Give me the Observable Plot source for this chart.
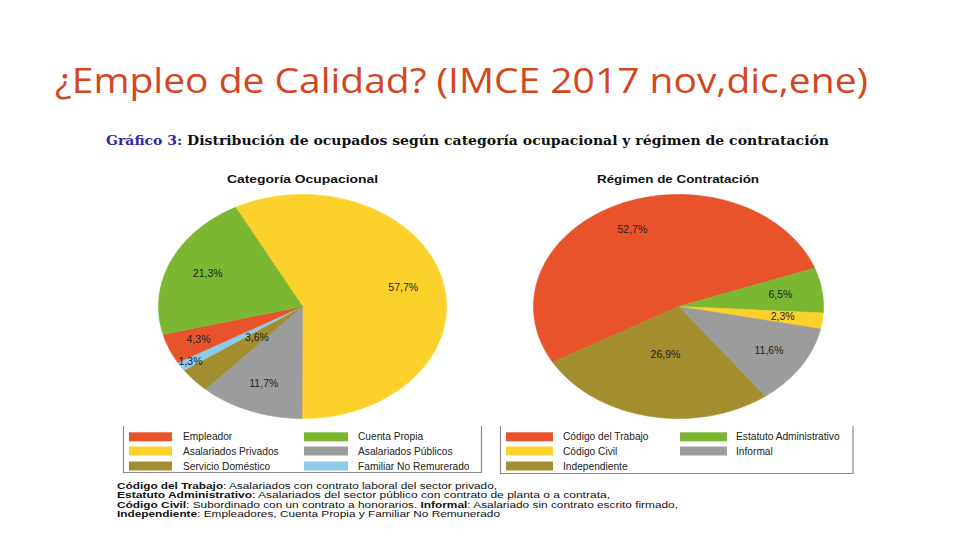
<!DOCTYPE html>
<html>
<head>
<meta charset="utf-8">
<script src="https://cdn.jsdelivr.net/npm/d3@7"></script>
<script src="https://cdn.jsdelivr.net/npm/@observablehq/plot@0.6"></script>
<style>
  body { margin: 0; background: #fff; }
  #page { position: relative; width: 960px; height: 540px; overflow: hidden; background: #fff; font-family: "Liberation Sans", Arial, sans-serif; }
  .pie { position: absolute; }
  .pie svg { display: block; background: transparent; }
  #overlay { position: absolute; left: 0; top: 0; pointer-events: none; }
</style>
</head>
<body>
<div id="page">
  <div id="pieLeft" class="pie"></div>
  <div id="pieRight" class="pie"></div>
</div>
<script>
// ---------------- DATA ----------------
const pageTitle = "¿Empleo de Calidad? (IMCE 2017 nov,dic,ene)";
const subtitleLead = "Gráfico 3:";
const subtitleRest = " Distribución de ocupados según categoría ocupacional y régimen de contratación";

const catTitle = "Categoría Ocupacional";
const catLabels = ["Asalariados Privados", "Asalariados Públicos", "Servicio Doméstico", "Familiar No Remurerado", "Empleador", "Cuenta Propia"];
const catValues = [57.7, 11.7, 3.6, 1.3, 4.3, 21.3];

const regTitle = "Régimen de Contratación";
const regLabels = ["Código del Trabajo", "Estatuto Administrativo", "Código Civil", "Informal", "Independiente"];
const regValues = [52.7, 6.5, 2.3, 11.6, 26.9];

// legend order (rows of two)
const catLegendOrder = ["Empleador", "Cuenta Propia", "Asalariados Privados", "Asalariados Públicos", "Servicio Doméstico", "Familiar No Remurerado"];
const regLegendOrder = ["Código del Trabajo", "Estatuto Administrativo", "Código Civil", "Informal", "Independiente"];

const footnotes = [
  [["Código del Trabajo", true], [": Asalariados con contrato laboral del sector privado,", false]],
  [["Estatuto Administrativo", true], [": Asalariados del sector público con contrato  de planta  o a contrata,", false]],
  [["Código Civil", true], [": Subordinado con un contrato a honorarios. ", false], ["Informal", true], [": Asalariado sin contrato escrito firmado,", false]],
  [["Independiente", true], [": Empleadores, Cuenta Propia y Familiar No Remunerado", false]]
];

// ---------------- STYLE / LAYOUT ----------------
const colorOf = {
  "Asalariados Privados": "#fdd12b",
  "Asalariados Públicos": "#9c9c9c",
  "Servicio Doméstico": "#a38e2f",
  "Familiar No Remurerado": "#8dcbe9",
  "Empleador": "#e8532b",
  "Cuenta Propia": "#7cb733",
  "Código del Trabajo": "#e8532b",
  "Estatuto Administrativo": "#7cb733",
  "Código Civil": "#fdd12b",
  "Informal": "#9c9c9c",
  "Independiente": "#a38e2f"
};
const leftPie = { cx: 302, cy: 305.5, rx: 144, ry: 112, start: 180 - catValues[0] * 3.6, labelR: [0.72, 0.74, 0.42, 0.92, 0.78, 0.72] };
const rightPie = { cx: 677.5, cy: 305.5, rx: 145, ry: 112, start: 240.2, labelR: [0.755, 0.71, 0.725, 0.74, 0.44] };

const fmt = v => d3.format(".1f")(v).replace(".", ",") + "%";

function slicesOf(labels, values, start) {
  const total = d3.sum(values);
  let a = start;
  return labels.map((label, i) => {
    const a0 = a, a1 = a + values[i] / total * 360;
    a = a1;
    return { label, value: values[i], a0, a1, mid: (a0 + a1) / 2, i };
  });
}
function outlineOf(slices) {
  const pts = [];
  for (const s of slices) {
    pts.push({ key: s.label, x: 0, y: 0 });
    const n = Math.max(2, Math.ceil(s.a1 - s.a0));
    for (let k = 0; k <= n; k++) {
      const t = (s.a0 + (s.a1 - s.a0) * k / n) * Math.PI / 180;
      pts.push({ key: s.label, x: Math.sin(t), y: Math.cos(t) });
    }
    pts.push({ key: s.label, x: 0, y: 0 });
  }
  return pts;
}
function drawPie(el, labels, values, cfg) {
  const W = 320, H = 240;
  const slices = slicesOf(labels, values, cfg.start);
  const chart = Plot.plot({
    width: W, height: H, margin: 0,
    style: { background: "transparent", fontFamily: "'Liberation Sans', Arial, sans-serif" },
    x: { domain: [-1, 1], range: [W / 2 - cfg.rx, W / 2 + cfg.rx], axis: null },
    y: { domain: [-1, 1], range: [H / 2 + cfg.ry, H / 2 - cfg.ry], axis: null },
    color: { domain: labels, range: labels.map(l => colorOf[l]) },
    marks: [
      Plot.line(outlineOf(slices), { x: "x", y: "y", z: "key", fill: "key", stroke: "key", strokeWidth: 0.6, curve: "linear" }),
      Plot.text(slices, {
        x: d => Math.sin(d.mid * Math.PI / 180) * cfg.labelR[d.i],
        y: d => Math.cos(d.mid * Math.PI / 180) * cfg.labelR[d.i],
        text: d => fmt(d.value), fontSize: 10.5, fill: "#1e1e1e"
      })
    ]
  });
  el.style.left = (cfg.cx - W / 2) + "px";
  el.style.top = (cfg.cy - H / 2) + "px";
  el.appendChild(chart);
}
drawPie(document.getElementById("pieLeft"), catLabels, catValues, leftPie);
drawPie(document.getElementById("pieRight"), regLabels, regValues, rightPie);

// ---------------- TEXT OVERLAY ----------------
const svg = d3.select("#page").append("svg").attr("id", "overlay").attr("width", 960).attr("height", 540);

svg.append("text").attr("x", 55).attr("y", 93).attr("textLength", 813).attr("lengthAdjust", "spacingAndGlyphs")
  .attr("font-family", "'Open Sans', Lato, sans-serif").attr("font-size", 34).attr("fill", "#d4461e").text(pageTitle);

const sub = svg.append("text").attr("x", 106).attr("y", 144.5).attr("textLength", 723).attr("lengthAdjust", "spacingAndGlyphs")
  .attr("font-family", "'DejaVu Serif', 'Liberation Serif', serif").attr("font-weight", "bold").attr("font-size", 12.5).attr("fill", "#111");
sub.append("tspan").attr("fill", "#2a2aa8").text(subtitleLead);
sub.append("tspan").text(subtitleRest);

svg.append("text").attr("x", 302.5).attr("y", 183).attr("text-anchor", "middle").attr("textLength", 151).attr("lengthAdjust", "spacingAndGlyphs")
  .attr("font-weight", "bold").attr("font-size", 11).attr("fill", "#111").text(catTitle);
svg.append("text").attr("x", 678).attr("y", 183).attr("text-anchor", "middle").attr("textLength", 162).attr("lengthAdjust", "spacingAndGlyphs")
  .attr("font-weight", "bold").attr("font-size", 11).attr("fill", "#111").text(regTitle);

// legend boxes
function legendBox(x0, x1, y0, y1) {
  svg.append("path").attr("d", `M${x0},${y0}V${y1}H${x1}V${y0}`).attr("fill", "none").attr("stroke", "#8a8a8a").attr("stroke-width", 1.2);
}
legendBox(123.5, 481.5, 426, 472.5);
legendBox(500.5, 853, 426, 473.5);

svg.append("clipPath").attr("id", "clipL").append("rect").attr("x", 123).attr("y", 420).attr("width", 356).attr("height", 60);
const rowY = [436.8, 451, 466];
function legend(order, cols, g) {
  order.forEach((lab, i) => {
    const c = cols[i % 2], r = rowY[Math.floor(i / 2)];
    g.append("rect").attr("x", c.sx).attr("y", r - 4.5).attr("width", c.sw).attr("height", 9).attr("fill", colorOf[lab]);
    g.append("text").attr("x", c.tx).attr("y", r + 3.6).attr("font-size", 10.2).attr("fill", "#222").text(lab);
  });
}
legend(catLegendOrder, [{ sx: 129, sw: 43, tx: 183 }, { sx: 304, sw: 44, tx: 358 }], svg.append("g").attr("clip-path", "url(#clipL)"));
legend(regLegendOrder, [{ sx: 506, sw: 47, tx: 563 }, { sx: 680, sw: 47, tx: 736 }], svg.append("g"));

// footnotes
const fnY = [488.5, 498, 507.5, 517];
const fnW = [380, 493, 561, 383];
footnotes.forEach((parts, i) => {
  const t = svg.append("text").attr("x", 117).attr("y", fnY[i]).attr("font-size", 9.6).attr("fill", "#111")
    .attr("textLength", fnW[i]).attr("lengthAdjust", "spacingAndGlyphs");
  parts.forEach(([s, b]) => t.append("tspan").attr("font-weight", b ? "bold" : "normal").text(s));
});
</script>
</body>
</html>
